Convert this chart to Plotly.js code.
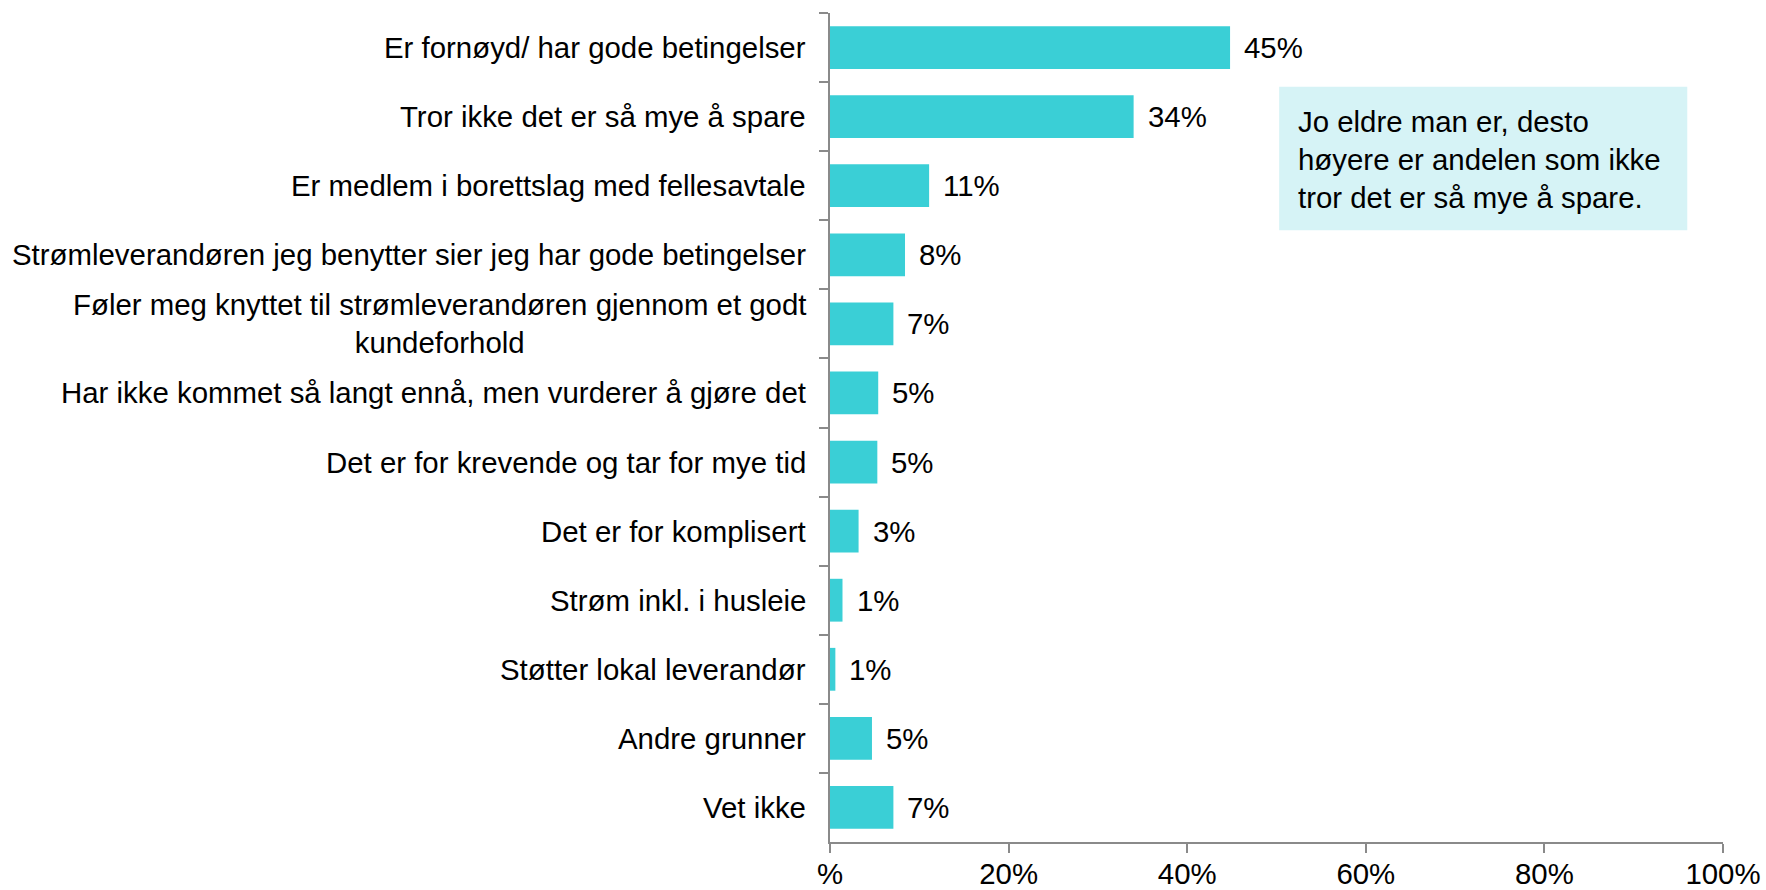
<!DOCTYPE html>
<html>
<head>
<meta charset="utf-8">
<script src="https://cdn.plot.ly/plotly-3.0.1.min.js"></script>
<style>html,body{margin:0;padding:0;background:#fff;}#chart{width:1766px;height:890px;}</style>
</head>
<body>
<div id="chart"></div>
<script>
const categories = [
  "Er fornøyd/ har gode betingelser",
  "Tror ikke det er så mye å spare",
  "Er medlem i borettslag med fellesavtale",
  "Strømleverandøren jeg benytter sier jeg har gode betingelser",
  "Føler meg knyttet til strømleverandøren gjennom et godt<br>kundeforhold",
  "Har ikke kommet så langt ennå, men vurderer å gjøre det",
  "Det er for krevende og tar for mye tid",
  "Det er for komplisert",
  "Strøm inkl. i husleie",
  "Støtter lokal leverandør",
  "Andre grunner",
  "Vet ikke"
];
const values = [44.8, 34.0, 11.1, 8.4, 7.1, 5.4, 5.3, 3.2, 1.4, 0.6, 4.7, 7.1];
const valueLabels = ["45%", "34%", "11%", "8%", "7%", "5%", "5%", "3%", "1%", "1%", "5%", "7%"];
const xTickVals = [0, 20, 40, 60, 80, 100];
const xTickText = ["%", "20%", "40%", "60%", "80%", "100%"];
const noteText = "Jo eldre man er, desto<br>høyere er andelen som ikke<br>tror det er så mye å spare.";

const FONT = "Liberation Sans, Arial, sans-serif";
const FS = 29.4;
const AXIS = "#8a8a8a";

const trace = {
  type: "bar",
  orientation: "h",
  y: categories,
  x: values,
  marker: {color: "#3acfd6", line: {width: 0}},
  hoverinfo: "skip"
};

const annotations = [];
categories.forEach((c, i) => {
  annotations.push({
    xref: "paper", yref: "y", x: 0, y: c,
    xanchor: "right", yanchor: "middle", xshift: -22,
    text: c, showarrow: false, align: "center",
    font: {family: FONT, size: FS, color: "#000"}
  });
  annotations.push({
    xref: "x", yref: "y", x: values[i], y: c,
    xanchor: "left", yanchor: "middle", xshift: 12,
    text: valueLabels[i], showarrow: false,
    font: {family: FONT, size: FS, color: "#000"}
  });
});
annotations.push({
  xref: "paper", yref: "paper", x: 0.522, y: 0.823,
  xanchor: "left", yanchor: "middle",
  text: noteText, showarrow: false, align: "left",
  font: {family: FONT, size: FS, color: "#000"}
});

const layout = {
  width: 1766, height: 890,
  margin: {l: 830, r: 43, t: 13, b: 48},
  paper_bgcolor: "#fff", plot_bgcolor: "#fff",
  showlegend: false,
  bargap: 0.38,
  font: {family: FONT, size: FS, color: "#000"},
  xaxis: {
    range: [0, 100], tickvals: xTickVals, ticktext: xTickText,
    showgrid: false, zeroline: false,
    showline: true, linecolor: AXIS, linewidth: 2,
    ticks: "outside", ticklen: 9, tickwidth: 2, tickcolor: AXIS,
    ticklabelstandoff: -4,
    tickfont: {family: FONT, size: FS, color: "#000"},
    fixedrange: true
  },
  yaxis: {
    type: "category", autorange: "reversed",
    showticklabels: false, showgrid: false, zeroline: false,
    showline: true, linecolor: AXIS, linewidth: 2,
    ticks: "outside", tickson: "boundaries", ticklen: 9, tickwidth: 2, tickcolor: AXIS,
    fixedrange: true
  },
  shapes: [{
    type: "rect", xref: "paper", yref: "paper",
    x0: 0.503, x1: 0.960, y0: 0.738, y1: 0.911,
    fillcolor: "#d6f3f6", line: {width: 0}, layer: "below"
  }],
  annotations: annotations
};

Plotly.newPlot("chart", [trace], layout, {displayModeBar: false, staticPlot: true});
</script>
</body>
</html>
